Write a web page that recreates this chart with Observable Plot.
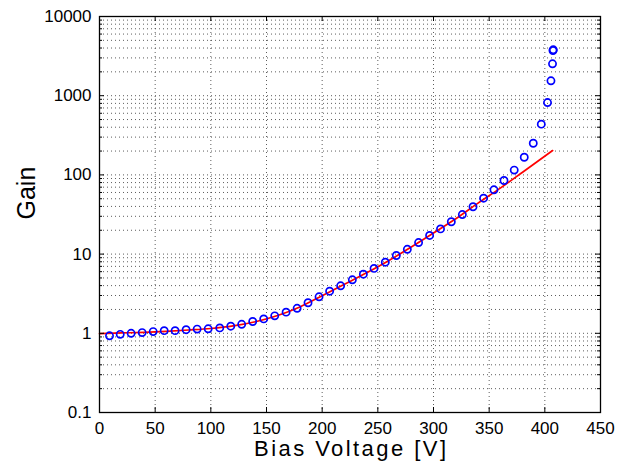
<!DOCTYPE html>
<html><head><meta charset="utf-8">
<script src="https://cdn.jsdelivr.net/npm/d3@7"></script>
<script src="https://cdn.jsdelivr.net/npm/@observablehq/plot@0.6"></script>
<style>body{margin:0;background:#fff} #chart{width:623px;height:463px}</style>
</head><body><div id="chart"></div><script>
// Measured gain vs bias voltage (blue circles)
const voltage = [9.0, 18.6, 28.4, 38.3, 48.2, 58.1, 67.9, 77.8, 87.7, 97.6,
  108.0, 117.9, 127.7, 137.6, 147.5, 157.4, 167.6, 177.5, 187.3, 197.2,
  206.7, 216.6, 227.1, 237.0, 246.6, 256.7, 266.6, 276.5, 286.6, 296.5,
  306.3, 316.0, 325.9, 335.5, 345.0, 354.3, 363.3, 372.5, 381.5, 389.6,
  396.8, 402.4, 405.5, 406.9, 407.3, 407.6];
const gain = [0.93, 0.97, 1.0, 1.02, 1.05, 1.08, 1.08, 1.11, 1.13, 1.14,
  1.17, 1.23, 1.30, 1.41, 1.52, 1.66, 1.85, 2.07, 2.43, 2.89,
  3.4, 3.98, 4.74, 5.57, 6.6, 7.9, 9.6, 11.5, 14.0, 17.2,
  20.8, 25.6, 31.6, 39.6, 50.8, 64.8, 85, 115, 167, 251,
  437, 820, 1542, 2530, 3720, 3800];
// Fit curve (red line)
const fitVoltage = [0, 20, 40, 60, 80, 100, 120, 140, 160, 180, 200, 220, 240, 260, 280, 300, 320, 340, 360, 380, 407];
const fitGain = [0.99, 1.01, 1.03, 1.06, 1.10, 1.15, 1.24, 1.40, 1.68, 2.15, 2.98, 4.15, 5.8, 8.3, 12.3, 18.5, 28, 44, 68, 108, 203];
const xTicks = [0, 50, 100, 150, 200, 250, 300, 350, 400, 450];
const yTicks = [0.1, 1, 10, 100, 1000, 10000];
const xLabel = "Bias Voltage [V]";
const yLabel = "Gain";

const points = voltage.map((v, i) => ({v, g: gain[i]}));
const fit = fitVoltage.map((v, i) => ({v, g: fitGain[i]}));
const yMinor = [];
for (const d of yTicks.slice(0, -1)) for (let k = 2; k <= 9; k++) yMinor.push(+(k * d).toPrecision(3));
const yGrid = yTicks.slice(1, -1).concat(yMinor);

const W = 623, H = 463, ml = 99, mr = 23, mt = 16, mb = 51;
const fh = H - mt - mb, fw = W - ml - mr;
const grid = {stroke: "#333", strokeWidth: 0.8, strokeDasharray: "1,3"};
const chart = Plot.plot({
  width: W, height: H, marginLeft: ml, marginRight: mr, marginTop: mt, marginBottom: mb,
  style: {fontFamily: "'Liberation Sans', Arial, sans-serif", background: "#fff", color: "#000"},
  x: {domain: [0, 450], axis: null},
  y: {type: "log", domain: [0.1, 10000], axis: null},
  marks: [
    Plot.ruleX(xTicks.slice(1, -1), {x: d => d, ...grid}),
    Plot.ruleY(yGrid, {y: d => d, ...grid}),
    Plot.line(fit, {x: "v", y: "g", stroke: "#ff0000", strokeWidth: 1.7, curve: "monotone-x"}),
    Plot.dot(points, {x: "v", y: "g", r: 3.6, stroke: "#0000ff", strokeWidth: 1.7, fill: "none"}),
    Plot.tickX(xTicks, {x: d => d, insetTop: fh - 5, stroke: "#000"}),
    Plot.tickX(xTicks, {x: d => d, insetBottom: fh - 5, stroke: "#000"}),
    Plot.tickY(yTicks, {y: d => d, insetRight: fw - 5, stroke: "#000"}),
    Plot.tickY(yTicks, {y: d => d, insetLeft: fw - 5, stroke: "#000"}),
    Plot.tickY(yMinor, {y: d => d, insetRight: fw - 3, stroke: "#000"}),
    Plot.tickY(yMinor, {y: d => d, insetLeft: fw - 3, stroke: "#000"}),
    Plot.frame({stroke: "#000", strokeWidth: 1.3}),
    Plot.axisX(xTicks, {tickSize: 0, tickPadding: 9, fontSize: 17, label: null, tickFormat: d => String(d)}),
    Plot.axisY(yTicks, {tickSize: 0, tickPadding: 8, fontSize: 17, label: null, tickFormat: d => String(d)}),
    Plot.text([xLabel], {text: d => d, frameAnchor: "bottom", lineAnchor: "middle", dy: 36.5, fontSize: 22, className: "xlab"}),
    Plot.text([yLabel], {text: d => d, frameAnchor: "left", lineAnchor: "middle", dx: -73, dy: 5, rotate: -90, fontSize: 25})
  ]
});
document.getElementById("chart").appendChild(chart);
// widen x label letter spacing to match reference width
d3.select(chart).selectAll("g.xlab text").attr("textLength", 192).attr("lengthAdjust", "spacing");
</script></body></html>
